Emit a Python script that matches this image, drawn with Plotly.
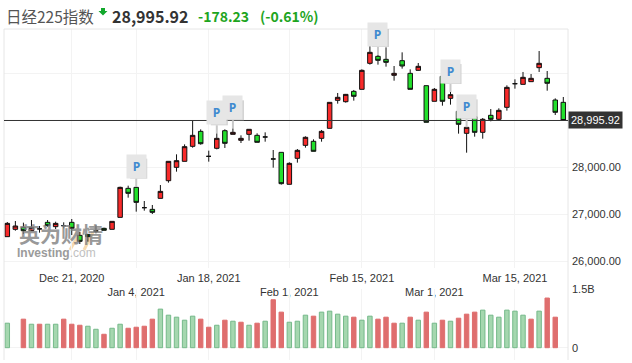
import plotly.graph_objects as go
from plotly.subplots import make_subplots

W, H = 632, 363
dates = ["2020-12-09","2020-12-10","2020-12-11","2020-12-14","2020-12-15","2020-12-16","2020-12-17","2020-12-18",
"2020-12-21","2020-12-22","2020-12-23","2020-12-24","2020-12-25","2020-12-28","2020-12-29","2020-12-30",
"2021-01-04","2021-01-05","2021-01-06","2021-01-07","2021-01-08","2021-01-12","2021-01-13","2021-01-14","2021-01-15",
"2021-01-18","2021-01-19","2021-01-20","2021-01-21","2021-01-22","2021-01-25","2021-01-26","2021-01-27","2021-01-28","2021-01-29",
"2021-02-01","2021-02-02","2021-02-03","2021-02-04","2021-02-05","2021-02-08","2021-02-09","2021-02-10","2021-02-12",
"2021-02-15","2021-02-16","2021-02-17","2021-02-18","2021-02-19","2021-02-22","2021-02-24","2021-02-25","2021-02-26",
"2021-03-01","2021-03-02","2021-03-03","2021-03-04","2021-03-05","2021-03-08","2021-03-09","2021-03-10","2021-03-11","2021-03-12",
"2021-03-15","2021-03-16","2021-03-17","2021-03-18","2021-03-19","2021-03-22","2021-03-23"]

opens = [26524,26680,26722,26651,26690,26829,26737,26758,26829,26552,26573,26644,26701,26680,26935,27552,27573,27141,27105,27339,
27715,27999,28127,28446,28765,28233,28404,28779,28701,28574,28701,28680,28645,28177,28318,27638,28191,28467,28553,28616,
28829,29425,29396,29616,29659,30212,30361,30297,29957,30269,29999,30063,29737,29404,29935,29467,29191,28723,29077,28744,
29106,29021,29276,29779,29765,29822,30120,29893,29432,29382]
highs = [26836,26857,26822,26878,26751,26878,26843,26829,26900,26630,26573,26765,26715,26850,27588,27609,27588,27283,27198,27623,
28127,28276,28488,28985,28807,28354,28723,28808,28829,28680,28808,28723,28744,28368,28318,28106,28389,28659,28595,28794,
29382,29581,29560,29645,30084,30708,30389,30552,30155,30446,30084,30219,29737,29687,29978,29602,29276,28850,29198,29049,
29240,29255,29744,29872,30028,29985,30474,30049,29467,29496]
lows = [26524,26651,26581,26651,26609,26737,26687,26701,26559,26368,26417,26595,26659,26680,26935,27354,27056,27077,27006,27339,
27673,27907,28127,28417,28481,28120,28382,28411,28701,28517,28567,28531,28545,27992,27631,27638,28099,28418,28340,28545,
28829,29354,29375,29418,29659,30184,30184,30141,29843,30099,29659,30056,28957,29404,29311,29333,28716,28311,28652,28609,
28978,28985,29205,29673,29765,29822,30028,29630,29113,28995.92]
closes = [26807,26751,26651,26722,26690,26758,26807,26758,26701,26425,26524,26644,26659,26850,27573,27446,27254,27141,27042,27488,
28127,28141,28439,28680,28502,28233,28616,28510,28744,28616,28808,28531,28645,28177,27652,28084,28361,28638,28340,28765,
29382,29489,29552,29510,30063,30446,30276,30233,29999,30155,29659,30148,28957,29659,29404,29545,28914,28850,28744,29021,
29021,29212,29701,29779,29914,29893,30212,29787,29170,28995.92]
volumes = [.626,None,.729,.600,.600,.600,.600,.729,.600,.574,.549,.471,.343,.497,.600,.497,.523,.549,.729,.986,
.831,.780,.703,.806,.729,.523,.574,.703,.677,.651,.574,.626,.677,1.226,.909,.651,.677,.831,.806,.909,
.934,.857,.806,.780,.703,.806,.729,.780,.626,.626,.780,.703,.909,.626,.703,.677,.754,.857,.909,.960,
.831,.780,.960,.934,.831,.729,.934,1.269,.780,None]
volume_dir = [
"g","g","r","g","r","g","g","r","r","r","g","g","r","g","g","r","r","r","r","g",
"g","g","g","g","r","r","g","r","g","r","g","r","g","r","r","g","g","g","r","g",
"g","g","g","r","g","g","r","r","r","g","r","g","r","g","r","g","r","r","r","g",
"g","g","g","g","g","r","g","r","r","g"]
tick_dates = ["2020-12-21","2021-01-04","2021-01-18","2021-02-01","2021-02-15","2021-03-01","2021-03-15"]
tick_labels = ["Dec 21, 2020","<br>Jan 4, 2021","Jan 18, 2021","<br>Feb 1, 2021","Feb 15, 2021","<br>Mar 1, 2021","Mar 15, 2021"]
price_ticks = [26000,27000,28000,29000,30000]
price_labels = ["26,000.00","27,000.00","28,000.00","",""]
last_close = 28995.92
flag_dates = ["2021-01-04","2021-01-19","2021-01-21","2021-02-17","2021-03-03","2021-03-05"]

L, R, T, B = 4, 568, 29, 360
PH = B - T
PBOT = 268
VTOP = 289
VBASE = 347.7
PX_PER_UNIT = 0.047
Y28 = 167.3
STEP = 8.058
X0 = 7.3
GRID = "#f3f3f3"
BORDER = "#e6e6e6"

fig = make_subplots(rows=2, cols=1, shared_xaxes=True)
fig.add_trace(go.Candlestick(x=dates, open=opens, high=highs, low=lows, close=closes,
    increasing=dict(fillcolor="#f82a2a", line=dict(color="#111111", width=1)),
    decreasing=dict(fillcolor="#22e02c", line=dict(color="#111111", width=1)),
    whiskerwidth=0, showlegend=False), row=1, col=1)
fig.add_trace(go.Bar(x=dates, y=volumes,
    marker=dict(color=["#df6e6e" if d == "r" else "#a5d7af" for d in volume_dir],
                line=dict(color=["#df6e6e" if d == "r" else "#75b98a" for d in volume_dir], width=1)),
    width=0.55, showlegend=False), row=2, col=1)

xr = [(L - X0) / STEP, (R - X0) / STEP]
pr = [28000 + (Y28 - PBOT) / PX_PER_UNIT, 28000 + (Y28 - T) / PX_PER_UNIT]
vpx = (VBASE - VTOP) / 1.5
common = dict(type="category", categoryorder="array", categoryarray=dates, range=xr,
              tickmode="array", tickvals=tick_dates, gridcolor=GRID, gridwidth=1,
              zeroline=False, showline=False, ticks="", rangeslider=dict(visible=False))
fig.update_layout(
    width=W, height=H, autosize=False,
    margin=dict(l=L, r=W - R, t=T, b=H - B),
    paper_bgcolor="white", plot_bgcolor="white", boxgap=0.2,
    font=dict(family="Liberation Sans, Arial, sans-serif", size=11, color="#333333"),
    xaxis=dict(**common, domain=[0, 1], anchor="y", ticktext=tick_labels, showticklabels=True,
               tickfont=dict(size=11, color="#333333"), ticklabelstandoff=2),
    xaxis2=dict(**common, domain=[0, 1], anchor="y2", matches="x", showticklabels=False),
    yaxis=dict(domain=[(B - PBOT) / PH, 1], range=pr, side="right", tickmode="array",
               tickvals=price_ticks, ticktext=price_labels, gridcolor=GRID, zeroline=False,
               tickfont=dict(size=11, color="#333333"), ticklen=0, ticklabelstandoff=3),
    yaxis2=dict(domain=[0, (B - VTOP) / PH], range=[-(B - VBASE) / vpx, 1.5], side="right", tickmode="array",
                tickvals=[0, 1.5], ticktext=["0", "1.5B"], gridcolor=GRID, zeroline=False,
                tickfont=dict(size=11, color="#333333"), ticklen=0, ticklabelstandoff=3),
)
def pxx(x): return (x - L) / (R - L)
def pxy(y): return (B - y) / PH
shapes = [
    dict(type="line", xref="paper", yref="paper", x0=0, x1=0, y0=0, y1=1, line=dict(color=BORDER, width=1), layer="above"),
    dict(type="line", xref="paper", yref="paper", x0=0, x1=1, y0=1, y1=1, line=dict(color=BORDER, width=1), layer="above"),
    dict(type="line", xref="paper", yref="paper", x0=1, x1=1, y0=0, y1=1, line=dict(color=BORDER, width=1), layer="above"),
    dict(type="line", xref="paper", yref="y", x0=0, x1=1, y0=last_close, y1=last_close, line=dict(color="#333333", width=1), layer="above"),
]
arrow = [(101, 8), (105, 8), (105, 11), (107.5, 11), (103, 15.5), (98.5, 11), (101, 11)]
shapes.append(dict(type="path", xref="paper", yref="paper",
                   path="M " + " L ".join(f"{pxx(a):.5f},{pxy(b):.5f}" for a, b in arrow) + " Z",
                   fillcolor="#12a82c", line=dict(width=0)))
for (a, b, c, d) in [(70, 250, 80, 232), (84, 250, 93, 232)]:
    shapes.append(dict(type="line", xref="paper", yref="paper", x0=pxx(a), x1=pxx(c), y0=pxy(b), y1=pxy(d),
                       line=dict(color="#f3c27a", width=3), opacity=0.6, layer="below"))
ann = []
def px(x, y, text, **kw):
    ann.append(dict(xref="paper", yref="paper", x=pxx(x), y=pxy(y), text=text,
                    showarrow=False, xanchor=kw.pop("xanchor", "left"), yanchor=kw.pop("yanchor", "middle"), **kw))
CJK = "Noto Sans CJK SC"
px(4, 16, "日经225指数", font=dict(family=CJK, size=15.5, color="#555555"))
px(110, 16, "<b>28,995.92</b>", font=dict(family=CJK, size=16, color="#333333"))
px(196, 16, "<b>-178.23</b>", font=dict(family=CJK, size=14, color="#1ea51e"))
px(258, 16, "<b>(-0.61%)</b>", font=dict(family=CJK, size=14, color="#1ea51e"))
ann.append(dict(xref="paper", yref="y", x=1.0, y=last_close, text="28,995.92", showarrow=False, xanchor="left", yanchor="middle",
                font=dict(size=11, color="white"), bgcolor="#333333", borderpad=2, xshift=0))
px(61, 233, "<b>英为财情</b>", xanchor="center", font=dict(family=CJK, size=21, color="#808080"), opacity=0.8)
px(15, 253, '<b>Investing</b><span style="color:#b5b5b5">.com</span>', font=dict(size=12, color="#8a8a8a"), opacity=0.85)

for d in flag_dates:
    i = dates.index(d)
    shapes.append(dict(type="rect", xref="x", yref="y", xsizemode="pixel", ysizemode="pixel",
                       xanchor=d, yanchor=highs[i], x0=-6, x1=11, y0=8, y1=28,
                       fillcolor="#c4c4c4", opacity=0.8, line=dict(width=0), layer="above"))
    ann.append(dict(xref="x", yref="y", x=d, y=highs[i], ax=0, ay=-8, axref="pixel", ayref="pixel", text="<b>P</b>",
                    showarrow=True, arrowhead=0, arrowwidth=2, arrowcolor="#c8c8c8", standoff=0,
                    font=dict(family="Open Sans", size=12, color="#3f8ad0"), xanchor="center",
                    bgcolor="#e6e6e6", width=17, height=21, yanchor="bottom", valign="middle", align="center"))
fig.update_layout(shapes=shapes, annotations=ann)
fig.write_html("out.html", post_script="document.body.style.margin='0';", config=dict(displayModeBar=False))
